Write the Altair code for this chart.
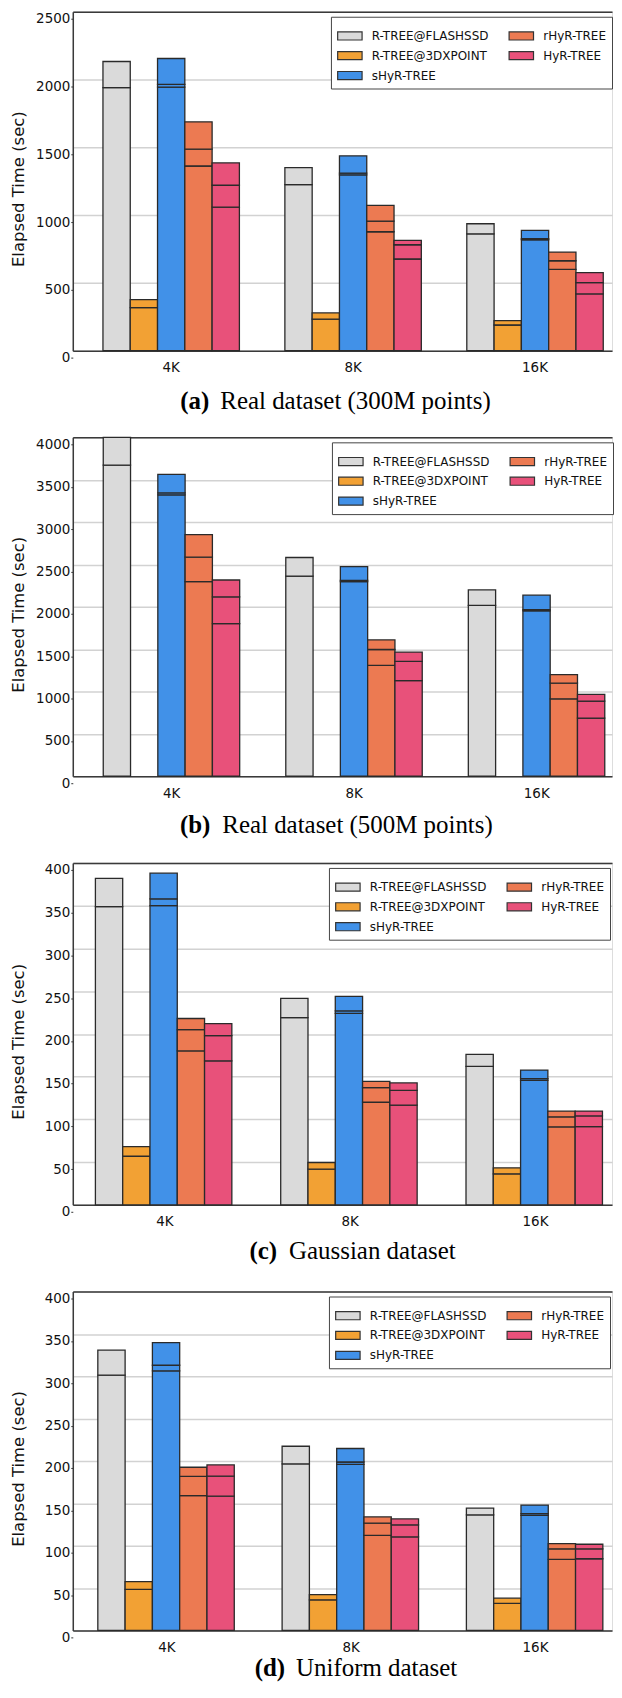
import altair as alt
import pandas as pd

SERIES = ["R-TREE@FLASHSSD", "R-TREE@3DXPOINT", "sHyR-TREE", "rHyR-TREE", "HyR-TREE"]
COLORS = ["#dadada", "#f2a134", "#4191e8", "#ec7a52", "#e8517a"]
GROUPS = ["4K", "8K", "16K"]

# each series: (bottom segment top, middle segment top, total) per group 4K, 8K, 16K
A_FLASHSSD = ([1940, 1225, 862], [1940, 1225, 862], [2133, 1350, 936])
A_3DXPOINT = ([317, 233, 189], [317, 233, 189], [376, 278, 221])
A_SHYR = ([1944, 1297, 818], [1964, 1310, 826], [2155, 1437, 887])
A_RHYR = ([1362, 877, 600], [1486, 956, 663], [1688, 1071, 727])
A_HYR = ([1059, 676, 418], [1220, 781, 501], [1385, 813, 575])

B_FLASHSSD = ([3672, 2363, 2016], [3672, 2363, 2016], [4000, 2582, 2199])
B_3DXPOINT = ([0, 0, 0], [0, 0, 0], [0, 0, 0])
B_SHYR = ([3320, 2297, 1953], [3344, 2312, 1965], [3562, 2473, 2137])
B_RHYR = ([2297, 1309, 914], [2586, 1496, 1098], [2851, 1609, 1199])
B_HYR = ([1801, 1129, 687], [2117, 1355, 887], [2316, 1465, 965])

C_FLASHSSD = ([349, 219, 162], [349, 219, 162], [382, 241.5, 176])
C_3DXPOINT = ([56.8, 41.7, 36.3], [56.8, 41.7, 36.3], [68, 49.5, 43.3])
C_SHYR = ([350, 224, 145.7], [358, 227, 147.6], [388, 244, 157.7])
C_RHYR = ([180, 120, 91.2], [205, 137, 103], [218, 144.5, 109.7])
C_HYR = ([168.5, 116.7, 91.6], [198, 134, 104], [212, 142.6, 109.7])

D_FLASHSSD = ([301.3, 196.5, 136.3], [301.3, 196.5, 136.3], [330.8, 217.4, 144.4])
D_3DXPOINT = ([48.5, 36.1, 31.8], [48.5, 36.1, 31.8], [57.5, 42.3, 38])
D_SHYR = ([306.4, 196, 135.9], [313, 198.8, 137.8], [339.8, 214.7, 148])
D_RHYR = ([159.2, 112.2, 83.9], [181.7, 126.6, 96.3], [192.6, 134, 102.5])
D_HYR = ([158.4, 110.3, 84.6], [182, 124.6, 96.3], [195.3, 131.6, 101.7])

PANEL_LABELS = ["(a)", "(b)", "(c)", "(d)"]
PANEL_TITLES = ["Real dataset (300M points)", "Real dataset (500M points)",
                "Gaussian dataset", "Uniform dataset"]
Y_MAX = [2500, 4000, 400, 400]
Y_STEP = [500, 500, 50, 50]

PLOT_W = 541
HEIGHTS = [340, 340, 343, 340]
SPACING = 87
X_PAD = [0.107, 0.102, 0.080, 0.088]
X_ALIGN = [0.775, 0.818, 0.763, 0.772]
LEGEND_X = [259, 260, 257, 257]
LEGEND_Y = 5
LABEL_END = [137, 138, 205, 213]
TITLE_START = [148, 150, 217, 224]
TITLE_GAP = [50.5, 49, 46, 38]

PANELS = [
    (A_FLASHSSD, A_3DXPOINT, A_SHYR, A_RHYR, A_HYR),
    (B_FLASHSSD, B_3DXPOINT, B_SHYR, B_RHYR, B_HYR),
    (C_FLASHSSD, C_3DXPOINT, C_SHYR, C_RHYR, C_HYR),
    (D_FLASHSSD, D_3DXPOINT, D_SHYR, D_RHYR, D_HYR),
]

SANS = "DejaVu Sans"
SERIF = "Liberation Serif"


def build_rows(panel):
    rows = []
    for s_name, (bottom, middle, total) in zip(SERIES, panel):
        for gi, g in enumerate(GROUPS):
            bounds = [0, bottom[gi], middle[gi], total[gi]]
            for k in range(3):
                lo, hi = bounds[k], bounds[k + 1]
                if hi > lo:
                    rows.append({"group": g, "series": s_name, "y0": lo, "y1": hi})
    return pd.DataFrame(rows)


def make_panel(i):
    df = build_rows(PANELS[i])
    h = HEIGHTS[i]
    ymax = Y_MAX[i]
    yvals = list(range(0, ymax + 1, Y_STEP[i]))
    x_scale = alt.Scale(domain=GROUPS, paddingInner=0.25, paddingOuter=X_PAD[i], align=X_ALIGN[i])
    y_scale = alt.Scale(domain=[0, ymax], nice=False, zero=True)

    frame = alt.Chart(df).mark_point(opacity=0).encode(
        x=alt.X("group:N", scale=x_scale, sort=GROUPS,
                axis=alt.Axis(orient="top", title=None, labels=False, ticks=False,
                              domain=True, domainColor="#3a3a3a", domainWidth=1.5, grid=False)),
        y=alt.Y("y1:Q", scale=y_scale,
                axis=alt.Axis(orient="right", title=None, labels=False, ticks=False,
                              domain=False, grid=True, gridColor="#d2d2d2", gridWidth=1.5,
                              values=yvals)),
    )

    bars = alt.Chart(df).mark_bar(stroke="#2a2a2a", strokeWidth=1.3, fillOpacity=1).encode(
        x=alt.X("group:N", scale=x_scale, sort=GROUPS,
                axis=alt.Axis(orient="bottom", title=None, labelAngle=0, labelFont=SANS,
                              labelFontSize=13.5, labelColor="#111", labelPadding=10,
                              ticks=False, domain=True, domainColor="#3a3a3a",
                              domainWidth=1.5, grid=False)),
        xOffset=alt.XOffset("series:N", scale=alt.Scale(domain=SERIES, paddingInner=0, paddingOuter=0)),
        y=alt.Y("y0:Q", scale=y_scale,
                axis=alt.Axis(orient="left", title="Elapsed Time (sec)", values=yvals, format="d",
                              grid=False, tickOffset=7, tickSize=2, tickColor="#333",
                              labelFont=SANS, labelFontSize=13.5, labelColor="#111",
                              labelPadding=1, labelFlush=False, labelOverlap=False,
                              domain=True, domainColor="#3a3a3a", domainWidth=1.5,
                              titleFont=SANS, titleFontSize=16.5, titleFontWeight="normal",
                              titleColor="#111", titleX=-54, titleY=h / 2 + 7.5,
                              titleAngle=270, titleAlign="center", titleBaseline="middle")),
        y2="y1:Q",
        color=alt.Color("series:N",
                        scale=alt.Scale(domain=SERIES, range=COLORS),
                        legend=alt.Legend(title=None, orient="none", legendX=LEGEND_X[i],
                                          legendY=LEGEND_Y, columns=2,
                                          symbolType="M-1,-0.33H1V0.33H-1Z",
                                          symbolSize=600, symbolStrokeColor="#333",
                                          symbolStrokeWidth=1.2, symbolOpacity=1,
                                          labelFont=SANS, labelFontSize=12, labelColor="#111",
                                          labelOffset=9, columnPadding=17, rowPadding=-2,
                                          padding=6, strokeColor="#444", fillColor="white")),
    )

    ty = h + TITLE_GAP[i]
    lab = alt.Chart(pd.DataFrame({"t": [PANEL_LABELS[i]]})).mark_text(
        font=SERIF, fontSize=25, fontWeight="bold", align="right", baseline="middle", color="#000"
    ).encode(text="t:N", x=alt.value(LABEL_END[i]), y=alt.value(ty))

    ttl = alt.Chart(pd.DataFrame({"t": [PANEL_TITLES[i]]})).mark_text(
        font=SERIF, fontSize=25, align="left", baseline="middle", color="#000"
    ).encode(text="t:N", x=alt.value(TITLE_START[i]), y=alt.value(ty))

    return alt.layer(frame, bars, lab, ttl).resolve_axis(x="independent", y="independent").properties(
        width=PLOT_W, height=h)


chart = alt.vconcat(*[make_panel(i) for i in range(4)], spacing=SPACING, bounds="flush").resolve_legend(
    color="independent"
).properties(
    padding={"left": 2, "top": 0, "right": 0, "bottom": 0}
).configure_view(stroke=None).configure(background="white")

chart.save("out.html", embed_options={"renderer": "svg", "actions": False})
